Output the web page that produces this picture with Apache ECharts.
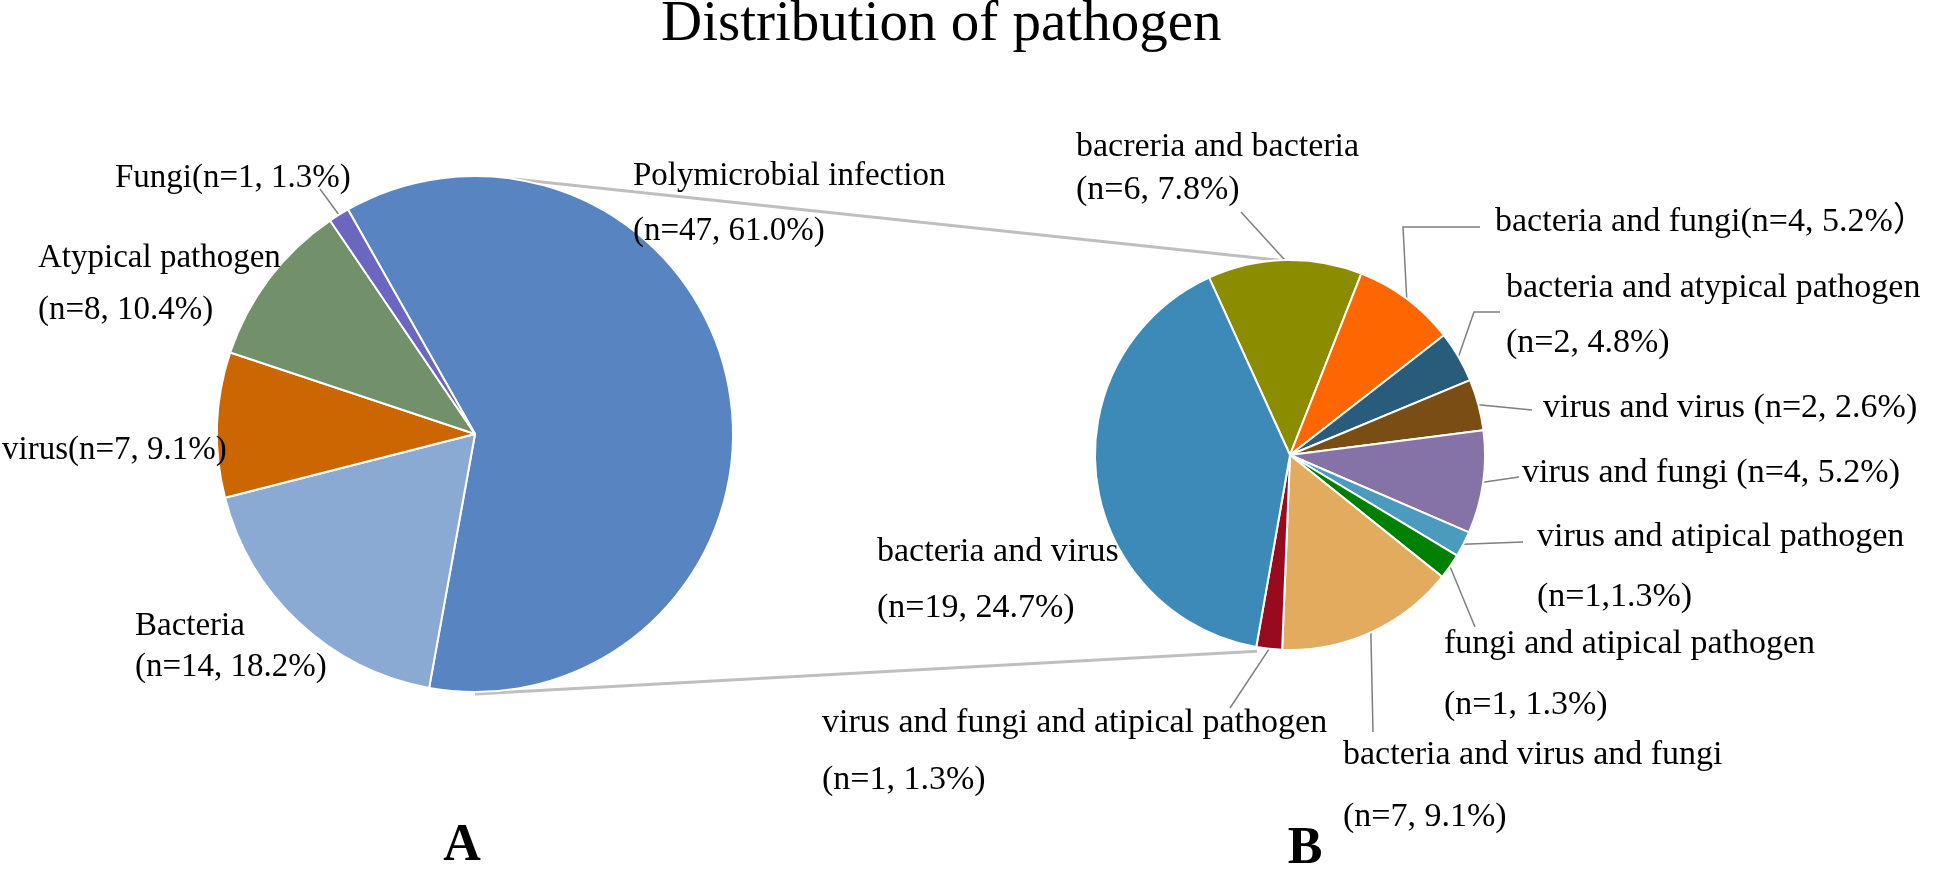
<!DOCTYPE html>
<html>
<head>
<meta charset="utf-8">
<title>Distribution of pathogen</title>
<script src="https://cdn.jsdelivr.net/npm/echarts@6/dist/echarts.min.js"></script>
<style>
  html, body { margin: 0; padding: 0; background: #fff; }
  #chart { width: 1946px; height: 871px; }
</style>
</head>
<body>
<div id="chart"></div>
<script>
// pie A: all cases
const mainNames = ['Polymicrobial infection', 'Bacteria', 'virus', 'Atypical pathogen', 'Fungi'];
const mainCounts = [47, 14, 7, 8, 1];
const mainLabels = [
  'Polymicrobial infection\n(n=47, 61.0%)',
  'Bacteria\n(n=14, 18.2%)',
  'virus(n=7, 9.1%)',
  'Atypical pathogen\n(n=8, 10.4%)',
  'Fungi(n=1, 1.3%)'
];
const mainColors = ['#5884c1', '#8aaad3', '#cc6600', '#72916b', '#6b66c0'];

// pie B: breakdown of the polymicrobial cases
const subNames = [
  'bacreria and bacteria', 'bacteria and fungi', 'bacteria and atypical pathogen',
  'virus and virus', 'virus and fungi', 'virus and atipical pathogen',
  'fungi and atipical pathogen', 'bacteria and virus and fungi',
  'virus and fungi and atipical pathogen', 'bacteria and virus'
];
const subCounts = [6, 4, 2, 2, 4, 1, 1, 7, 1, 19];
const subLabels = [
  'bacreria and bacteria\n(n=6, 7.8%)',
  'bacteria and fungi(n=4, 5.2%）',
  'bacteria and atypical pathogen\n(n=2, 4.8%)',
  'virus and virus (n=2, 2.6%)',
  'virus and fungi (n=4, 5.2%)',
  'virus and atipical pathogen\n(n=1,1.3%)',
  'fungi and atipical pathogen\n(n=1, 1.3%)',
  'bacteria and virus and fungi\n(n=7, 9.1%)',
  'virus and fungi and atipical pathogen\n(n=1, 1.3%)',
  'bacteria and virus\n(n=19, 24.7%)'
];
const subColors = ['#8c8c00', '#fd6601', '#295c7b', '#7a4d15', '#8572a6',
                   '#4b9bbf', '#008000', '#e2ab5e', '#980a1e', '#3d89b7'];

const FONT = "'Times New Roman', 'Liberation Serif', 'Noto Sans CJK SC', serif";
const centerA = [475, 434], radiusA = 258;
const centerB = [1290, 455], radiusB = 195;

// label placement: left x, middle y, line height, leader line bends
const mainPlace = [
  [633, 204, 55, null],
  [135, 647, 41, null],
  [2, 450, 36, null],
  [38, 284, 52, null],
  [115, 178, 36, [[320, 189]]]
];
const subPlace = [
  [1076, 169, 43, [[1241, 212]]],
  [1495, 222, 40, [[1403, 227], [1480, 227]]],
  [1506, 316, 55, [[1474, 312], [1500, 312]]],
  [1543, 408, 40, [[1532, 410]]],
  [1522, 473, 40, [[1519, 477]]],
  [1537, 567, 60, [[1523, 542]]],
  [1444, 675, 61, [[1475, 627]]],
  [1343, 786, 62, [[1373, 732]]],
  [822, 752, 57, [[1230, 708]]],
  [877, 580, 56, null]
];

function onCircle(c, r, deg) {
  const a = deg * Math.PI / 180;
  return [c[0] + r * Math.sin(a), c[1] - r * Math.cos(a)];
}

function buildData(names, counts, colors, place) {
  return names.map((name, i) => ({
    name: name,
    value: counts[i],
    itemStyle: { color: colors[i] },
    label: { lineHeight: place[i][2] },
    labelLine: { show: !!place[i][3] }
  }));
}

function placer(place) {
  return function (p) {
    const pl = place[p.dataIndex];
    const out = { x: pl[0], y: pl[1], align: 'left', verticalAlign: 'middle', hideOverlap: false };
    if (pl[3] && p.labelLinePoints) {
      const pts = [p.labelLinePoints[0]].concat(pl[3]);
      while (pts.length < 3) pts.push(pts[pts.length - 1]);
      out.labelLinePoints = pts;
    }
    return out;
  };
}

function pieSeries(center, radius, startAngle, fontSize, names, counts, colors, labels, place) {
  return {
    type: 'pie',
    center: center,
    radius: radius,
    startAngle: startAngle,
    clockwise: true,
    avoidLabelOverlap: false,
    animation: false,
    z: 3,
    emphasis: { disabled: true },
    itemStyle: { borderColor: '#ffffff', borderWidth: 2 },
    label: {
      show: true,
      formatter: (p) => labels[p.dataIndex],
      fontFamily: FONT,
      fontSize: fontSize,
      color: '#000'
    },
    labelLine: { show: true, length: 10, length2: 10, lineStyle: { color: '#7f7f7f', width: 1.5 } },
    labelLayout: placer(place),
    data: buildData(names, counts, colors, place)
  };
}

const chart = echarts.init(document.getElementById('chart'));

chart.setOption({
  backgroundColor: '#ffffff',
  title: {
    text: 'Distribution of pathogen',
    left: 656,
    top: -8,
    textStyle: { fontFamily: FONT, fontSize: 57, fontWeight: 'normal', color: '#000' }
  },
  graphic: [
    // pie-of-pie connector lines
    {
      type: 'polyline', z: 0,
      shape: { points: [onCircle(centerA, radiusA, 8.6), onCircle(centerB, radiusB, -3.2)] },
      style: { stroke: '#bfbfbf', lineWidth: 3, fill: null }
    },
    {
      type: 'polyline', z: 0,
      shape: { points: [onCircle(centerA, radiusA + 2, 180), onCircle(centerB, radiusB + 4, 189.5)] },
      style: { stroke: '#bfbfbf', lineWidth: 3, fill: null }
    },
    {
      type: 'text', x: 462, y: 847,
      style: { text: 'A', fontFamily: FONT, fontSize: 52, fontWeight: 'bold', fill: '#000',
               align: 'center', verticalAlign: 'middle', textAlign: 'center', textVerticalAlign: 'middle' }
    },
    {
      type: 'text', x: 1305, y: 850,
      style: { text: 'B', fontFamily: FONT, fontSize: 52, fontWeight: 'bold', fill: '#000',
               align: 'center', verticalAlign: 'middle', textAlign: 'center', textVerticalAlign: 'middle' }
    }
  ],
  series: [
    pieSeries(centerA, radiusA, 119.5, 33, mainNames, mainCounts, mainColors, mainLabels, mainPlace),
    pieSeries(centerB, radiusB, 114.5, 34, subNames, subCounts, subColors, subLabels, subPlace)
  ]
});
</script>
</body>
</html>
